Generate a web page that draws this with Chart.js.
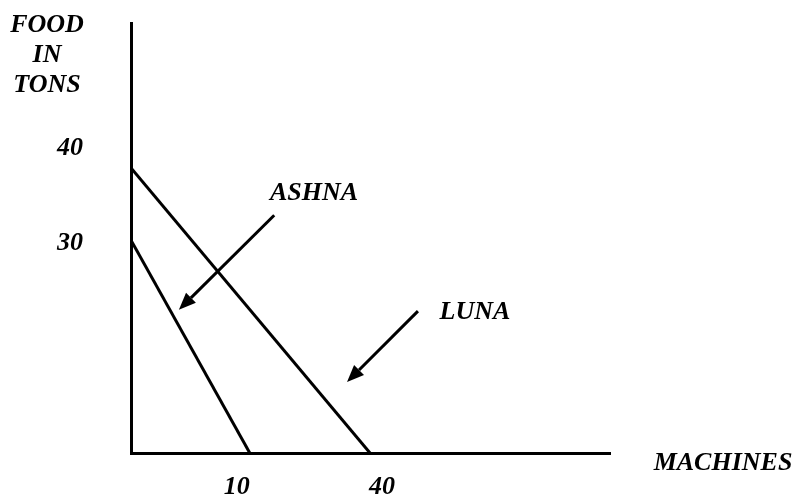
<!DOCTYPE html>
<html>
<head>
<meta charset="utf-8">
<script src="https://cdn.jsdelivr.net/npm/chart.js@4"></script>
<style>
  html, body { margin: 0; padding: 0; background: #fff; overflow: hidden; }
  canvas { display: block; }
</style>
</head>
<body>
<canvas id="myChart" width="796" height="499"></canvas>
<script>
// Values in plot units (0-100 on both axes)
const lunaX = [0, 49.9];
const lunaY = [66.3, 0];
const ashnaX = [0, 24.8];
const ashnaY = [49.5, 0];

// tick positions and their printed labels
const yTickValues = [70.9, 48.7];
const yTickLabels = ['40', '30'];
const xTickValues = [22.1, 52.4];
const xTickLabels = ['10', '40'];

// arrow callouts: [fromX, fromY, toX, toY] and label position
const calloutNames = ['ASHNA', 'LUNA'];
const calloutArrows = [[29.9, 55.3, 10.0, 33.3], [59.9, 33.0, 45.1, 16.5]];
const calloutLabelAt = [[38.2, 60.5], [71.8, 32.8]];

const FONT = 'italic bold 26px "Liberation Serif", "Times New Roman", serif';
const tickFont = { family: '"Liberation Serif", serif', size: 26, style: 'italic', weight: 'bold' };

function toPoints(xs, ys) {
    return xs.map((x, i) => ({ x: x, y: ys[i] }));
}

function drawArrow(ctx, x1, y1, x2, y2) {
    const ang = Math.atan2(y2 - y1, x2 - x1);
    const headLen = 17, headW = 7;
    const bx = x2 - headLen * Math.cos(ang);
    const by = y2 - headLen * Math.sin(ang);
    ctx.beginPath();
    ctx.moveTo(x1, y1);
    ctx.lineTo(bx, by);
    ctx.stroke();
    ctx.beginPath();
    ctx.moveTo(x2, y2);
    ctx.lineTo(bx + headW * Math.sin(ang), by - headW * Math.cos(ang));
    ctx.lineTo(bx - headW * Math.sin(ang), by + headW * Math.cos(ang));
    ctx.closePath();
    ctx.fill();
}

// draws the callouts and the two axis titles
const labelsPlugin = {
    id: 'labels',
    afterDraw(chart) {
        const ctx = chart.ctx;
        const xs = chart.scales.x, ys = chart.scales.y;
        const area = chart.chartArea;
        ctx.save();
        ctx.fillStyle = '#000';
        ctx.strokeStyle = '#000';
        ctx.lineWidth = 3;
        ctx.font = FONT;
        ctx.textAlign = 'center';
        ctx.textBaseline = 'middle';

        calloutNames.forEach((name, i) => {
            const a = calloutArrows[i];
            drawArrow(ctx, xs.getPixelForValue(a[0]), ys.getPixelForValue(a[1]),
                xs.getPixelForValue(a[2]), ys.getPixelForValue(a[3]));
            const p = calloutLabelAt[i];
            ctx.fillText(name, xs.getPixelForValue(p[0]), ys.getPixelForValue(p[1]));
        });

        // y axis title, stacked to the left of the axis top
        ['FOOD', 'IN', 'TONS'].forEach((t, i) => {
            ctx.fillText(t, area.left - 84, area.top + 2 + i * 30);
        });
        // x axis title, right of the axis end
        ctx.fillText('MACHINES', area.right + 113, area.bottom + 10);
        ctx.restore();
    }
};

// tick padding would otherwise push the plot area inwards
function noEdgePadding(scale) {
    scale.paddingTop = 0;
    scale.paddingBottom = 0;
    scale.paddingLeft = 0;
    scale.paddingRight = 0;
}

const ctx = document.getElementById('myChart').getContext('2d');
const myChart = new Chart(ctx, {
    type: 'scatter',
    data: {
        datasets: [{
            label: 'LUNA',
            data: toPoints(lunaX, lunaY),
            showLine: true,
            borderColor: '#000',
            borderWidth: 3,
            pointRadius: 0
        }, {
            label: 'ASHNA',
            data: toPoints(ashnaX, ashnaY),
            showLine: true,
            borderColor: '#000',
            borderWidth: 3,
            pointRadius: 0
        }]
    },
    options: {
        responsive: false,
        animation: false,
        layout: { padding: { left: 0, right: 186, top: 23, bottom: 0 } },
        plugins: {
            legend: { display: false },
            tooltip: { enabled: false }
        },
        scales: {
            x: {
                type: 'linear',
                min: 0,
                max: 100,
                grid: { display: false, drawTicks: false },
                border: { display: true, color: '#000', width: 3 },
                afterBuildTicks: scale => { scale.ticks = xTickValues.map(v => ({ value: v })); },
                afterFit: scale => { scale.height = 46; noEdgePadding(scale); },
                ticks: {
                    color: '#000',
                    padding: 19,
                    maxRotation: 0,
                    autoSkip: false,
                    font: tickFont,
                    callback: (v, i) => xTickLabels[i]
                }
            },
            y: {
                type: 'linear',
                min: 0,
                max: 100,
                grid: { display: false, drawTicks: false },
                border: { display: true, color: '#000', width: 3 },
                afterBuildTicks: scale => { scale.ticks = yTickValues.map(v => ({ value: v })); },
                afterFit: scale => { scale.width = 131; noEdgePadding(scale); },
                ticks: {
                    color: '#000',
                    padding: 48,
                    autoSkip: false,
                    font: tickFont,
                    callback: (v, i) => yTickLabels[i]
                }
            }
        }
    },
    plugins: [labelsPlugin]
});
</script>
</body>
</html>
